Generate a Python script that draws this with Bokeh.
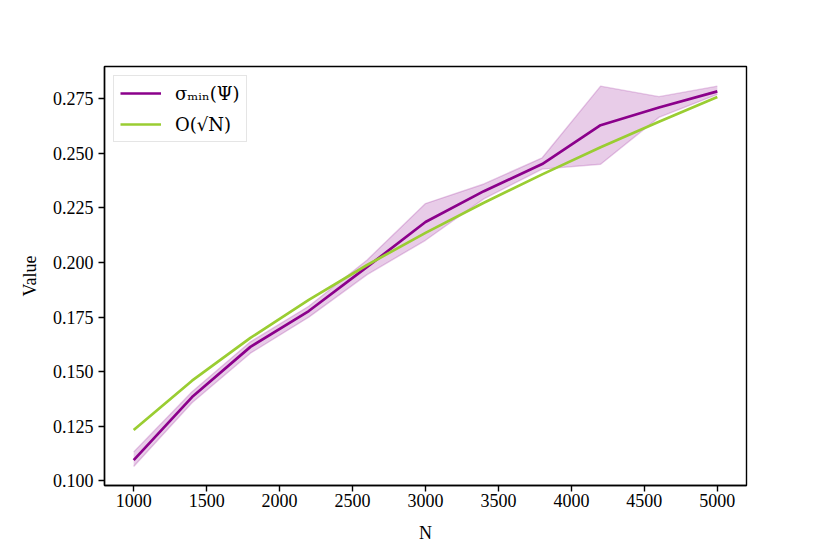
from bokeh.plotting import figure
from bokeh.models import (ColumnDataSource, Band, Legend, LegendItem, FixedTicker,
                          NumeralTickFormatter, Range1d)
from bokeh.embed import file_html
from bokeh.resources import INLINE

# ---- data ----
N = [1000, 1400, 1800, 2200, 2600, 3000, 3400, 3800, 4200, 4600, 5000]
sigma_mean = [0.1095, 0.1384, 0.1614, 0.1778, 0.1980, 0.2186, 0.2327, 0.2451, 0.2629, 0.2710, 0.2784]
sigma_lower = [0.1066, 0.1358, 0.1585, 0.1750, 0.1945, 0.2102, 0.2292, 0.2428, 0.2450, 0.2665, 0.2770]
sigma_upper = [0.1133, 0.1408, 0.1637, 0.1800, 0.2012, 0.2270, 0.2360, 0.2480, 0.2808, 0.2760, 0.2808]
sqrt_ref = [0.1233, 0.1459, 0.1655, 0.1829, 0.1989, 0.2136, 0.2274, 0.2404, 0.2528, 0.2645, 0.2758]

x_ticks = [1000, 1500, 2000, 2500, 3000, 3500, 4000, 4500, 5000]
y_ticks = [0.100, 0.125, 0.150, 0.175, 0.200, 0.225, 0.250, 0.275]
label_sigma = "σₘᵢₙ(Ψ)"
label_sqrt = "O(√N)"

src = ColumnDataSource(dict(N=N, mean=sigma_mean, lower=sigma_lower,
                            upper=sigma_upper, ref=sqrt_ref))

PURPLE = "#8b008b"
GREEN = "#9acd32"
FONT = "Liberation Serif"

p = figure(frame_width=642, frame_height=419,
           min_border_left=104, min_border_top=66, min_border_right=67, min_border_bottom=62,
           x_range=Range1d(800, 5200), y_range=Range1d(0.0979, 0.2898),
           output_backend="svg", toolbar_location=None)

p.xgrid.visible = False
p.ygrid.visible = False
p.outline_line_color = "black"
p.outline_line_width = 1.4
p.outline_line_alpha = 1.0
p.background_fill_color = "white"
p.border_fill_color = "white"

band = Band(base="N", lower="lower", upper="upper", source=src,
            fill_color=PURPLE, fill_alpha=0.2,
            line_color=PURPLE, line_alpha=0.2, line_width=1.4, level="underlay")
p.add_layout(band)

r1 = p.line("N", "mean", source=src, line_color=PURPLE, line_width=2.7)
r2 = p.line("N", "ref", source=src, line_color=GREEN, line_width=2.7)

for ax in (p.xaxis[0], p.yaxis[0]):
    ax.axis_line_width = 1.4
    ax.major_tick_line_width = 1.4
    ax.major_tick_out = 6
    ax.major_tick_in = 0
    ax.minor_tick_out = 0
    ax.minor_tick_in = 0
    ax.major_label_text_font = FONT
    ax.major_label_text_font_size = "18px"
    ax.major_label_text_color = "black"
    ax.axis_label_text_font = FONT
    ax.axis_label_text_font_size = "18px"
    ax.axis_label_text_font_style = "normal"
    ax.axis_label_text_color = "black"

p.xaxis[0].ticker = FixedTicker(ticks=x_ticks)
p.yaxis[0].ticker = FixedTicker(ticks=y_ticks)
p.yaxis[0].formatter = NumeralTickFormatter(format="0.000")
p.xaxis[0].axis_label = "N"
p.yaxis[0].axis_label = "Value"
p.xaxis[0].major_label_standoff = 2
p.yaxis[0].major_label_standoff = 5
p.xaxis[0].axis_label_standoff = 13
p.yaxis[0].axis_label_standoff = 10

legend = Legend(items=[LegendItem(label=label_sigma, renderers=[r1]),
                       LegendItem(label=label_sqrt, renderers=[r2])],
                location="top_left", margin=9, padding=6, spacing=9,
                glyph_width=41, glyph_height=22, label_height=22, label_standoff=14,
                label_text_font="DejaVu Serif", label_text_font_size="18px",
                label_text_color="black",
                border_line_color="#cccccc", border_line_width=1.2,
                background_fill_color="white", background_fill_alpha=0.8)
p.add_layout(legend)

open("out.html", "w").write(file_html(p, INLINE))
